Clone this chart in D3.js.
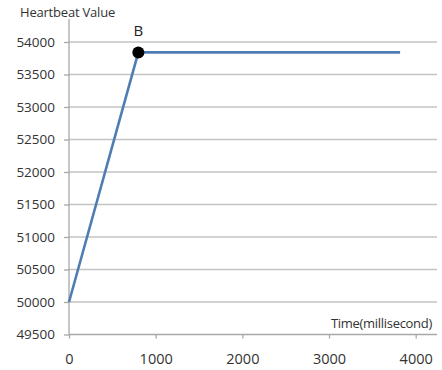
<!DOCTYPE html>
<html><head><meta charset="utf-8">
<script src="https://cdn.jsdelivr.net/npm/d3@7"></script>
<style>body{margin:0;background:#fff;}svg{display:block;}</style>
</head><body>
<script>
const times = [0, 800, 3820];
const values = [50000, 53840, 53840];
const xTicks = [0, 1000, 2000, 3000, 4000];
const yTicks = [49500, 50000, 50500, 51000, 51500, 52000, 52500, 53000, 53500, 54000];
const markedIndex = 1;
const markLabel = "B";
const yTitle = "Heartbeat Value";
const xTitle = "Time(millisecond)";

const W = 442, H = 370;
const svg = d3.select("body").append("svg").attr("width", W).attr("height", H);
const x = d3.scaleLinear().domain([0, 4000]).range([69, 415.7]);
const y = d3.scaleLinear().domain([49500, 54000]).range([334.5, 42]);
const font = "'Open Sans', sans-serif";
const txt = "#333";

// gridlines
svg.append("g").selectAll("line").data(yTicks.filter(d => d !== 49500)).join("line")
  .attr("x1", x(0)).attr("x2", 437).attr("y1", d => y(d)).attr("y2", d => y(d))
  .attr("stroke", "#c3c3c3").attr("stroke-width", 1.5);

// y axis
const ya = svg.append("g").attr("transform", `translate(${x(0)},0)`)
  .call(d3.axisLeft(y).tickValues(yTicks).tickSize(5).tickPadding(9).tickFormat(d3.format("d")));
ya.select(".domain").remove();
ya.append("line").attr("x1", 0).attr("x2", 0).attr("y1", 19).attr("y2", y(49500))
  .attr("stroke", "#a8a8a8").attr("stroke-width", 1.3);
ya.selectAll(".tick line").attr("stroke", "#a8a8a8").attr("stroke-width", 1.3);
ya.selectAll(".tick text").attr("fill", txt).style("font-family", font).style("font-size", "13.5px");

// x axis
const xa = svg.append("g").attr("transform", `translate(0,${y(49500)})`)
  .call(d3.axisBottom(x).tickValues(xTicks).tickSize(4).tickPadding(15).tickFormat(d3.format("d")));
xa.select(".domain").remove();
xa.append("line").attr("x1", x(0)).attr("x2", 437).attr("y1", 0).attr("y2", 0)
  .attr("stroke", "#a8a8a8").attr("stroke-width", 1.3);
xa.selectAll(".tick line").attr("stroke", "#a8a8a8").attr("stroke-width", 1.3);
xa.selectAll(".tick text").attr("fill", txt).style("font-family", font).style("font-size", "14.5px");

// line
const pts = times.map((t, i) => [t, values[i]]);
svg.append("path").datum(pts)
  .attr("d", d3.line().x(d => x(d[0])).y(d => y(d[1])))
  .attr("fill", "none").attr("stroke", "#4f7db3").attr("stroke-width", 2.6);

// marked point
svg.append("circle").attr("cx", x(times[markedIndex])).attr("cy", y(values[markedIndex])).attr("r", 6).attr("fill", "#000");
svg.append("text").attr("x", x(times[markedIndex])).attr("y", y(values[markedIndex]) - 16)
  .attr("text-anchor", "middle").attr("fill", "#222").style("font-family", font).style("font-size", "15px").text(markLabel);

// titles
svg.append("text").attr("x", 20).attr("y", 17).attr("fill", txt)
  .style("font-family", font).style("font-size", "13px").style("letter-spacing", "-0.2px").text(yTitle);
svg.append("text").attr("x", 331).attr("y", 328).attr("fill", txt)
  .style("font-family", font).style("font-size", "13px").style("letter-spacing", "-0.3px").text(xTitle);
</script>
</body></html>
